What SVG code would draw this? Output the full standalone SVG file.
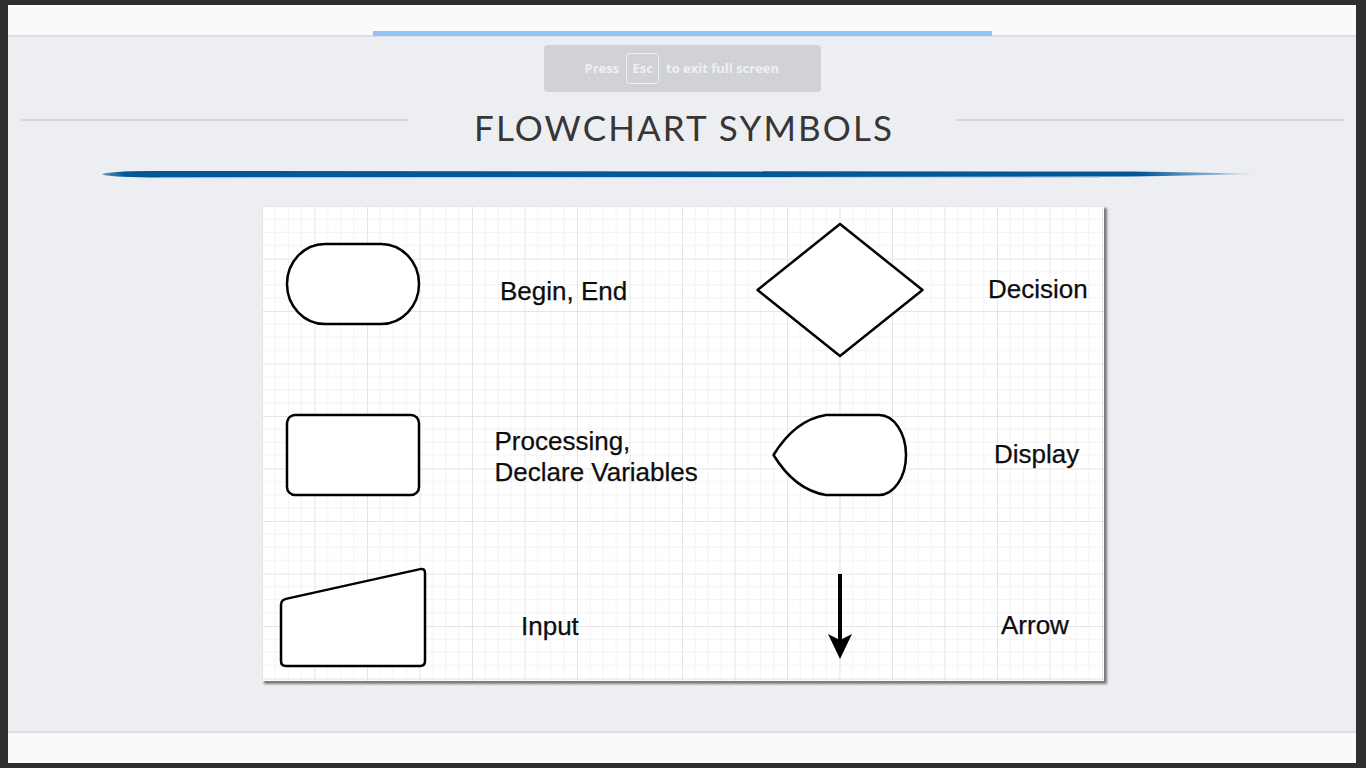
<svg xmlns="http://www.w3.org/2000/svg" width="1366" height="768" viewBox="0 0 1366 768">
  <style>
    .shape { fill: #ffffff; stroke: #000000; stroke-width: 2.5; stroke-linejoin: round; }
    .label { font-family: "Liberation Sans", Arial, Helvetica, sans-serif; font-size: 26px; fill: #0d0d0d; stroke: #0d0d0d; stroke-width: 0.25; }
    .hint { font-family: "Open Sans", "Liberation Sans", sans-serif; font-weight: bold; font-size: 13px; fill: #eef0f3; }
    .rule { stroke: #d6d7da; stroke-width: 2; }
  </style>
  <defs>
    <pattern id="grid" x="262" y="206" width="52.5" height="52.5" patternUnits="userSpaceOnUse">
      <path d="M13.125 0V52.5M26.25 0V52.5M39.375 0V52.5M0 13.125H52.5M0 26.25H52.5M0 39.375H52.5" stroke="#f2f2f2" stroke-width="1" fill="none"/>
      <path d="M0.5 0V52.5M0 0.5H52.5" stroke="#e4e4e4" stroke-width="1" fill="none"/>
    </pattern>
    <filter id="soft" x="-5%" y="-5%" width="110%" height="110%">
      <feGaussianBlur stdDeviation="1"/>
    </filter>
    <linearGradient id="brushL" x1="0" x2="1" y1="0" y2="0">
      <stop offset="0" stop-color="#01579b" stop-opacity="0.6"/>
      <stop offset="0.02" stop-color="#01579b"/>
      <stop offset="0.9" stop-color="#01579b"/>
      <stop offset="1" stop-color="#4a8cc4" stop-opacity="0.3"/>
    </linearGradient>
    <marker id="arrowhead" markerUnits="userSpaceOnUse" markerWidth="25" markerHeight="24" viewBox="0 0 25 24" refX="6" refY="12" orient="auto" overflow="visible">
      <path d="M0 0L25 12L0 24L6 12Z" fill="#000000"/>
    </marker>
  </defs>

  <!-- frame and page -->
  <rect x="0" y="0" width="1366" height="768" fill="#2f2f2f"/>
  <rect x="8" y="5" width="1348" height="758" fill="#edeef2"/>
  <rect x="8" y="5" width="1348" height="30" fill="#f9fafc"/>
  <rect x="8" y="35" width="1348" height="2" fill="#dcdde1"/>
  <rect x="373" y="31" width="619" height="5" fill="#90c4f8"/>
  <rect x="8" y="732" width="1348" height="31" fill="#f9fafc"/>
  <rect x="8" y="731" width="1348" height="2" fill="#dcdde1"/>

  <!-- full screen hint -->
  <g id="esc-hint">
    <rect x="544" y="45" width="277" height="47" rx="4" fill="#d1d2d6"/>
    <text class="hint" x="584.5" y="73">Press</text>
    <rect x="626.5" y="53.5" width="32" height="30" rx="3" fill="none" stroke="#eef0f3" stroke-width="1"/>
    <text class="hint" x="632.5" y="73">Esc</text>
    <text class="hint" x="666" y="73" textLength="113" lengthAdjust="spacingAndGlyphs">to exit full screen</text>
  </g>

  <!-- title -->
  <g id="title">
    <line class="rule" x1="21" y1="120" x2="408" y2="120"/>
    <line class="rule" x1="956" y1="120" x2="1344" y2="120"/>
    <text x="683" y="141" text-anchor="middle" font-family="Lato, 'Liberation Sans', sans-serif" font-size="35" fill="#363636" textLength="418" lengthAdjust="spacing">FLOWCHART SYMBOLS</text>
    <path d="M102 174.3Q108 171.2 150 171L1130 171.6Q1200 172.6 1256 174Q1200 175.2 1130 176.6L150 177.4Q108 177.2 102 174.3Z" fill="url(#brushL)"/>
    <path d="M160 177.2L1100 176.8L1100 178L160 178.2Z" fill="#a9c6e2" opacity="0.6"/>
  </g>

  <!-- card -->
  <g id="card">
    <rect x="264" y="208" width="843" height="476" fill="#7a7a7a" filter="url(#soft)"/>
    <rect x="262" y="206" width="842" height="475" fill="#ffffff"/>
    <rect x="262" y="206" width="842" height="475" fill="url(#grid)"/>
  </g>

  <g id="terminal">
    <rect class="shape" x="287" y="244" width="132" height="80" rx="38" ry="40"/>
    <text class="label" x="500" y="300">Begin, End</text>
  </g>

  <g id="decision">
    <polygon class="shape" points="840,224 922.5,290 840,356 757.5,290"/>
    <text class="label" x="988" y="298">Decision</text>
  </g>

  <g id="process">
    <rect class="shape" x="287" y="415" width="132" height="80" rx="8" ry="8"/>
    <text class="label" x="494.5" y="450">Processing,</text>
    <text class="label" x="494.5" y="481">Declare Variables</text>
  </g>

  <g id="display">
    <path class="shape" d="M826 415L879 415A27 40 0 0 1 879 495L826 495Q795 490 773.5 455Q795 420 826 415Z"/>
    <text class="label" x="994" y="463">Display</text>
  </g>

  <g id="input">
    <path class="shape" d="M281 605Q281 600 285.9 598.9L420.1 569.1Q425 568 425 573L425 661Q425 666 420 666L286 666Q281 666 281 661Z"/>
    <text class="label" x="521" y="635">Input</text>
  </g>

  <g id="connectors">
    <line x1="840" y1="574" x2="840" y2="640" stroke="#000000" stroke-width="4" marker-end="url(#arrowhead)"/>
  </g>

  <g id="arrow-label">
    <text class="label" x="1001" y="634">Arrow</text>
  </g>
</svg>
